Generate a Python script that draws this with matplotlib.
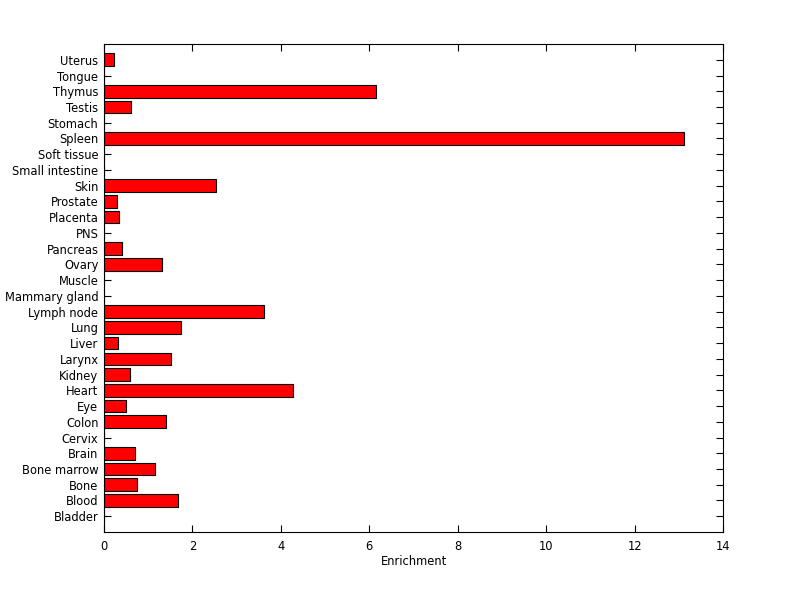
import matplotlib
matplotlib.use('Agg')
import matplotlib.pyplot as plt
import numpy as np

# tissue names, bottom to top
tissues = ['Bladder', 'Blood', 'Bone', 'Bone marrow', 'Brain', 'Cervix', 'Colon',
           'Eye', 'Heart', 'Kidney', 'Larynx', 'Liver', 'Lung', 'Lymph node',
           'Mammary gland', 'Muscle', 'Ovary', 'Pancreas', 'PNS', 'Placenta',
           'Prostate', 'Skin', 'Small intestine', 'Soft tissue', 'Spleen',
           'Stomach', 'Testis', 'Thymus', 'Tongue', 'Uterus']
enrichment = [0, 1.67, 0.75, 1.15, 0.70, 0, 1.40,
              0.50, 4.28, 0.59, 1.52, 0.32, 1.74, 3.62,
              0, 0, 1.31, 0.41, 0, 0.34,
              0.29, 2.53, 0, 0, 13.12,
              0, 0.61, 6.15, 0, 0.23]

plt.rcParams['font.family'] = ['DejaVu Sans']
plt.rcParams['font.size'] = 8.3

fig = plt.figure(figsize=(8, 5.99), dpi=100)
ax = fig.add_axes([0.13, 0.1119, 0.774, 0.8146])

pos = np.arange(1, len(tissues) + 1)
ax.barh(pos, enrichment, height=0.8, color='#ff0000', edgecolor='black', linewidth=0.8)
ax.set_axisbelow(True)

ax.set_xlim(0, 14)
ax.set_ylim(0, len(tissues) + 1)
ax.set_yticks(pos)
ax.set_yticklabels(tissues)
ax.set_xticks(np.arange(0, 15, 2))
ax.set_xlabel('Enrichment', labelpad=1.5)
ax.tick_params(direction='in', top=True, right=True, length=5, width=0.8)
ax.tick_params(axis='x', pad=6)
ax.tick_params(axis='y', pad=4)
for s in ax.spines.values():
    s.set_linewidth(0.8)

fig.savefig('out.png', dpi=100)
